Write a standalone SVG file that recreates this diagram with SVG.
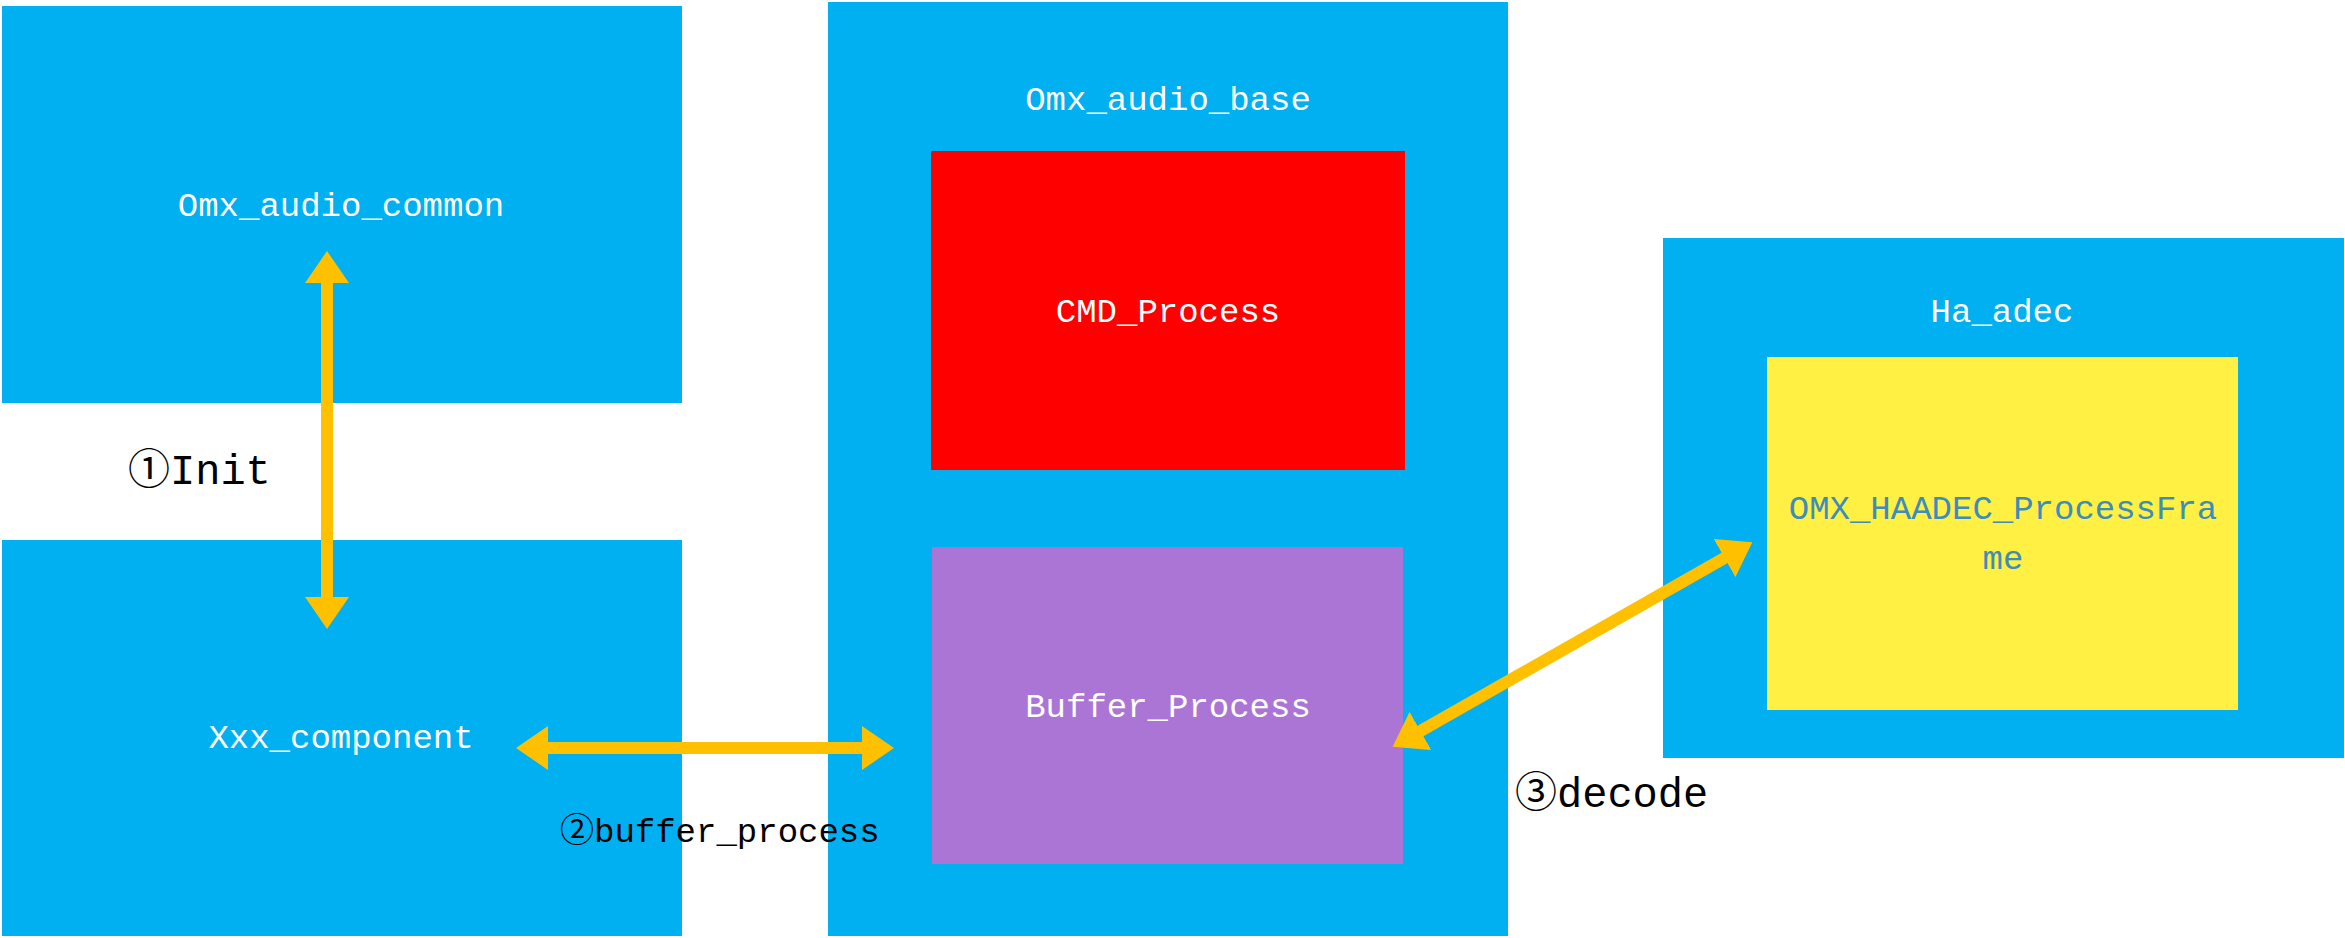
<svg xmlns="http://www.w3.org/2000/svg" width="2345" height="938" viewBox="0 0 2345 938">
<style>
.blue{fill:#00B0F0}
.t{font-family:"Liberation Mono","Noto Sans CJK SC",monospace;font-size:34px;fill:#fff;text-anchor:middle}
.l{font-family:"Liberation Mono","Noto Sans CJK SC",monospace;fill:#000}
.c{stroke:#FFC000;stroke-width:12;fill:none;marker-start:url(#ah);marker-end:url(#ah)}
</style>
<defs>
<marker id="ah" markerUnits="userSpaceOnUse" viewBox="0 0 32 44" refX="4" refY="22" markerWidth="32" markerHeight="44" orient="auto-start-reverse">
<path d="M0,0 L32,22 L0,44 Z" fill="#FFC000"/>
</marker>
</defs>
<rect width="2345" height="938" fill="#fff"/>
<g id="omx_audio_common"><rect class="blue" x="2" y="6" width="680" height="397"/><text class="t" x="341" y="216">Omx_audio_common</text></g>
<g id="xxx_component"><rect class="blue" x="2" y="540" width="680" height="396"/><text class="t" x="341" y="748">Xxx_component</text></g>
<g id="omx_audio_base"><rect class="blue" x="828" y="2" width="680" height="934"/><text class="t" x="1168" y="110">Omx_audio_base</text></g>
<g id="cmd_process"><rect fill="#FF0000" x="931" y="151" width="474" height="319"/><text class="t" x="1168" y="322">CMD_Process</text></g>
<g id="buffer_process"><rect fill="#AA75D5" x="932" y="547" width="471" height="317"/><text class="t" x="1168" y="717">Buffer_Process</text></g>
<g id="ha_adec"><rect class="blue" x="1663" y="238" width="681" height="520"/><text class="t" x="2002" y="322">Ha_adec</text></g>
<g id="omx_haadec"><rect fill="#FFF043" x="1767" y="357" width="471" height="353"/><text class="t" x="2003" y="519" style="fill:#3C8DBC">OMX_HAADEC_ProcessFra</text><text class="t" x="2003" y="569" style="fill:#3C8DBC">me</text></g>
<g id="connectors">
<line class="c" x1="327" y1="279" x2="327" y2="601"/>
<line class="c" x1="544" y1="748" x2="866" y2="748"/>
<line class="c" x1="1417" y1="733" x2="1728" y2="556"/>
</g>
<g id="labels">
<text class="l" x="128" y="484" font-size="42">①Init</text>
<text class="l" x="560" y="842" font-size="34">②buffer_process</text>
<text class="l" x="1515" y="807" font-size="42">③decode</text>
</g>
</svg>
